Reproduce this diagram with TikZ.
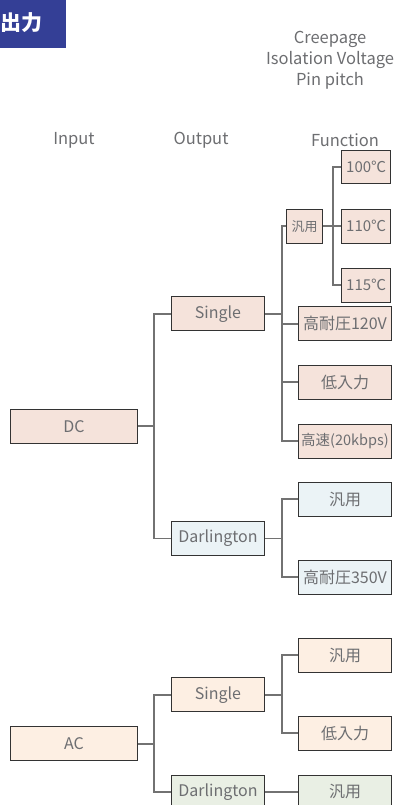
\documentclass[tikz,border=0pt]{standalone}
\usepackage{fontspec}
\setmainfont{Noto Sans CJK JP}
\usetikzlibrary{calc}
\definecolor{txtgray}{HTML}{6D6E71}
\definecolor{linegray}{HTML}{727272}
\definecolor{boxline}{HTML}{333333}
\definecolor{titleblue}{HTML}{343F96}
\definecolor{dcpink}{HTML}{F5E3DB}
\definecolor{dcblue}{HTML}{EBF3F6}
\definecolor{acpeach}{HTML}{FDEFE3}
\definecolor{acgreen}{HTML}{E9EFE4}
\tikzset{
  box/.style={draw=boxline, line width=0.9pt, text=txtgray, inner sep=0pt,
    minimum height=34pt, font=\fontsize{16}{18}\selectfont, anchor=center},
  wbox/.style={box, minimum width=93.4pt},
  lbox/.style={box, minimum width=126.6pt},
  tbox/.style={box, minimum width=49pt, font=\fontsize{15}{17}\selectfont},
  conn/.style={draw=linegray, line width=1.8pt},
  head/.style={text=txtgray, font=\fontsize{16.5}{21}\selectfont, align=center, inner sep=0pt}
}
\begin{document}
\begin{tikzpicture}[x=1pt,y=-1pt]
\useasboundingbox (0,0) rectangle (397,805);
% title
\fill[titleblue] (0,0) rectangle (65.7,47.7);
\node[anchor=west, text=white, font=\bfseries\fontsize{21}{24}\selectfont, inner sep=0pt] (title) at (0.5,23) {出力};
% headers
\node[head] (hcreep) at (330,60) {Creepage\\Isolation Voltage\\Pin pitch};
\node[head] (hin) at (74,140) {Input};
\node[head] (hout) at (201,140) {Output};
\node[head] (hfun) at (345,140) {Function};
% DC tree
\node[lbox, fill=dcpink] (dc) at (74,426.3) {DC};
\node[wbox, fill=dcpink] (sdc) at (218,313.7) {Single};
\node[wbox, fill=dcblue] (ddc) at (218,538.5) {Darlington};
\node[box, fill=dcpink, minimum width=35.6pt, font=\fontsize{13}{14}\selectfont] (gen1) at (304.5,226.3) {汎用};
\node[tbox, fill=dcpink, minimum height=33pt] (t100) at (366.2,167) {100℃};
\node[tbox, fill=dcpink] (t110) at (366.2,226.3) {110℃};
\node[tbox, fill=dcpink] (t115) at (366.2,285) {115℃};
\node[wbox, fill=dcpink] (hv120) at (345,323.7) {高耐圧120V};
\node[wbox, fill=dcpink] (low1) at (345,382.3) {低入力};
\node[wbox, fill=dcpink, font=\fontsize{14.5}{16}\selectfont] (fast) at (345,441) {高速(20kbps)};
\node[wbox, fill=dcblue] (gen2) at (345,499.2) {汎用};
\node[wbox, fill=dcblue] (hv350) at (345,577.2) {高耐圧350V};
% AC tree
\node[lbox, fill=acpeach] (ac) at (74,743.7) {AC};
\node[wbox, fill=acpeach] (sac) at (218,694.7) {Single};
\node[wbox, fill=acgreen] (dac) at (218,792) {Darlington};
\node[wbox, fill=acpeach] (gen3) at (345,655.3) {汎用};
\node[wbox, fill=acpeach] (low2) at (345,733.3) {低入力};
\node[wbox, fill=acgreen] (gen4) at (345,792) {汎用};
% bus coordinates
\coordinate (bA) at (154,0);
\coordinate (bB) at (281.7,0);
\coordinate (bC) at (332.7,0);
% connectors DC
\draw[conn] (dc.east) -- (dc.east -| bA);
\draw[conn] (sdc.west) -- (sdc.west -| bA) |- (ddc.west);
\draw[conn] (sdc.east) -- (sdc.east -| bB);
\draw[conn] (gen1.west) -- (gen1.west -| bB) |- (fast.west);
\draw[conn] (hv120.west) -- (hv120.west -| bB);
\draw[conn] (low1.west) -- (low1.west -| bB);
\draw[conn] (gen1.east) -- (t110.west);
\draw[conn] (t100.west) -- (t100.west -| bC) |- (t115.west);
\draw[conn] (ddc.east) -- (ddc.east -| bB);
\draw[conn] (gen2.west) -- (gen2.west -| bB) |- (hv350.west);
% connectors AC
\draw[conn] (ac.east) -- (ac.east -| bA);
\draw[conn] (sac.west) -- (sac.west -| bA) |- (dac.west);
\draw[conn] (sac.east) -- (sac.east -| bB);
\draw[conn] (gen3.west) -- (gen3.west -| bB) |- (low2.west);
\draw[conn] (dac.east) -- (gen4.west);
\end{tikzpicture}
\end{document}
